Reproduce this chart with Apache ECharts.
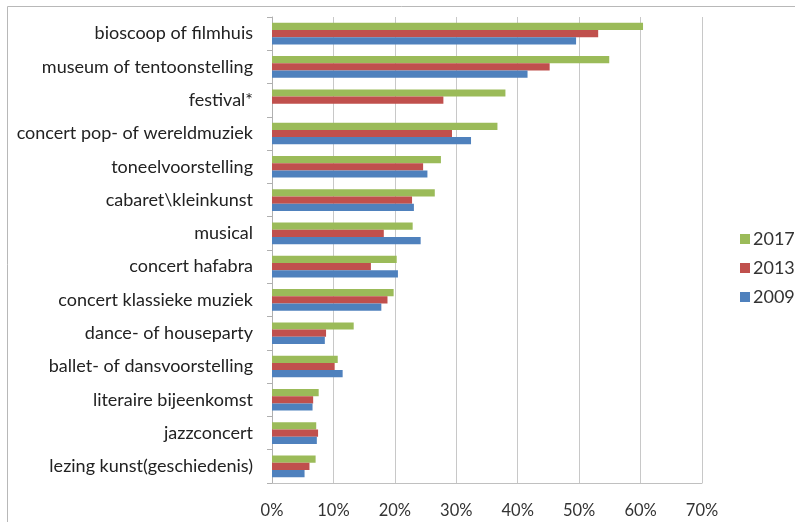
<!DOCTYPE html>
<html>
<head>
<meta charset="utf-8">
<script src="https://cdn.jsdelivr.net/npm/echarts@6/dist/echarts.min.js"></script>
<style>html,body{margin:0;padding:0;background:#fff}#c{width:795px;height:522px}</style>
</head>
<body>
<div id="c"></div>
<script>
const categories = [
  "bioscoop of filmhuis",
  "museum of tentoonstelling",
  "festival*",
  "concert pop- of wereldmuziek",
  "toneelvoorstelling",
  "cabaret\\kleinkunst",
  "musical",
  "concert hafabra",
  "concert klassieke muziek",
  "dance- of houseparty",
  "ballet- of dansvoorstelling",
  "literaire bijeenkomst",
  "jazzconcert",
  "lezing kunst(geschiedenis)"
];
const seriesNames = ["2017", "2013", "2009"];
const values2017 = [60.4, 54.9, 38.0, 36.7, 27.5, 26.5, 22.9, 20.3, 19.8, 13.3, 10.7, 7.6, 7.2, 7.1];
const values2013 = [53.1, 45.2, 27.9, 29.3, 24.6, 22.8, 18.2, 16.1, 18.8, 8.8, 10.2, 6.7, 7.5, 6.1];
const values2009 = [49.5, 41.6, null, 32.4, 25.3, 23.1, 24.2, 20.5, 17.8, 8.6, 11.5, 6.6, 7.3, 5.3];
const xTicks = [0, 10, 20, 30, 40, 50, 60, 70];

const colors = ["#9BBB59", "#C0504D", "#4F81BD"];
const font = "Lato, 'Open Sans', sans-serif";
const chart = echarts.init(document.getElementById('c'));
const allValues = [values2017, values2013, values2009];
chart.setOption({
  animation: false,
  textStyle: { fontFamily: font },
  graphic: [{
    type: 'rect', shape: { x: 7.5, y: 6.5, width: 820, height: 540 },
    style: { fill: 'none', stroke: '#b8b8b8', lineWidth: 1 }, z: -1
  }],
  grid: { left: 272, right: 93, top: 17, bottom: 39, containLabel: false },
  legend: {
    orient: 'vertical', left: 735, top: 225,
    data: seriesNames,
    itemWidth: 10, itemHeight: 10, itemGap: 11,
    icon: 'rect',
    textStyle: { fontSize: 18, color: '#333', fontFamily: font, padding: [0, 0, 0, -2] }
  },
  xAxis: {
    type: 'value', min: xTicks[0], max: xTicks[xTicks.length - 1], interval: 10,
    axisLine: { show: true, lineStyle: { color: '#c0c0c0' } },
    axisTick: { show: false },
    splitLine: { show: true, lineStyle: { color: '#c8c8c8', width: 1 } },
    axisLabel: { formatter: v => v + '%', fontSize: 16.5, color: '#333', margin: 19 }
  },
  yAxis: {
    type: 'category', data: categories, inverse: true,
    axisLine: { show: true, lineStyle: { color: '#b0b0b0' } },
    axisTick: { show: true, length: 5, lineStyle: { color: '#b0b0b0' } },
    axisLabel: { fontSize: 18, color: '#222', margin: 19, padding: [3, 0, 0, 0] }
  },
  series: seriesNames.map((n, i) => ({
    name: n, type: 'bar', data: allValues[i],
    itemStyle: { color: colors[i] },
    barGap: '0%', barCategoryGap: '35%'
  }))
});
</script>
</body>
</html>
